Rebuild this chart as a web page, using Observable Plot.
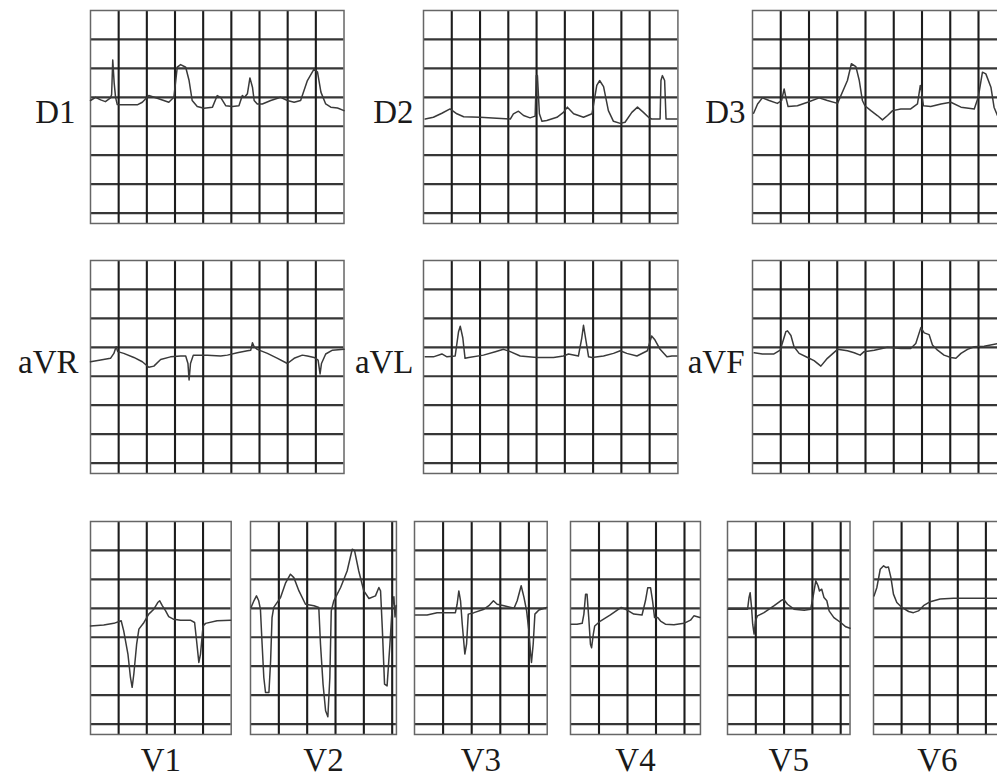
<!DOCTYPE html>
<html><head><meta charset="utf-8">
<script src="https://cdn.jsdelivr.net/npm/d3@7"></script>
<script src="https://cdn.jsdelivr.net/npm/@observablehq/plot@0.6"></script>
<style>
html,body{margin:0;padding:0;background:#fff;overflow:hidden;}
#chart{position:relative;width:997px;height:778px;overflow:hidden;background:#fff;}
#chart svg{position:absolute;}
</style></head><body><div id="chart"></div>
<script>
// Lead names
const leadNames = ["D1","D2","D3","aVR","aVL","aVF","V1","V2","V3","V4","V5","V6"];

// Traces: [time in large grid boxes from panel's left edge, amplitude in large boxes above lowest full grid line]
const D1 = [[0,3.89],[0.18,4.0],[0.36,3.91],[0.53,3.85],[0.71,3.98],[0.75,4.1],[0.79,5.29],[0.84,4.5],[0.89,4.0],[0.95,3.75],[1.07,3.74],[1.66,3.74],[1.84,3.83],[2.07,4.06],[2.37,3.97],[2.78,3.83],[2.96,4.0],[3.08,5.04],[3.2,5.13],[3.38,5.04],[3.5,4.58],[3.61,3.89],[3.79,3.68],[4.03,3.62],[4.33,3.66],[4.5,4.06],[4.62,4.0],[4.8,3.71],[5.04,3.68],[5.27,3.71],[5.39,4.06],[5.47,4.0],[5.57,4.12],[5.66,4.67],[5.75,4.35],[5.81,3.89],[5.92,3.77],[6.1,3.77],[6.4,3.89],[6.75,4.0],[6.99,3.89],[7.23,3.83],[7.46,3.89],[7.7,4.58],[7.94,4.98],[8.06,4.87],[8.18,4.18],[8.35,3.77],[8.53,3.66],[8.77,3.63],[9.0,3.54]];
const D2 = [[0.06,3.25],[0.35,3.31],[0.65,3.45],[0.94,3.6],[1.18,3.43],[1.42,3.33],[2.0,3.31],[2.59,3.28],[3.07,3.25],[3.18,3.43],[3.36,3.52],[3.54,3.37],[3.77,3.29],[3.95,3.35],[3.99,4.75],[4.03,4.75],[4.1,3.43],[4.19,3.17],[4.36,3.2],[4.72,3.31],[4.95,3.48],[5.09,3.66],[5.31,3.43],[5.66,3.31],[5.96,3.43],[6.13,4.41],[6.23,4.58],[6.37,4.37],[6.54,3.54],[6.72,3.17],[6.96,3.1],[7.13,3.14],[7.37,3.48],[7.57,3.66],[7.78,3.48],[7.96,3.31],[8.07,3.25],[8.37,3.25],[8.4,4.58],[8.45,4.75],[8.53,4.58],[8.58,3.25],[8.96,3.25]];
const D3 = [[0.04,3.45],[0.18,3.77],[0.35,3.98],[0.59,3.89],[0.88,3.79],[1.03,3.89],[1.12,4.29],[1.18,4.0],[1.26,3.68],[1.59,3.71],[1.95,3.83],[2.36,3.98],[2.65,3.89],[3.01,3.79],[3.36,4.58],[3.5,5.16],[3.66,5.06],[3.78,4.58],[3.89,3.89],[3.98,3.71],[4.19,3.54],[4.42,3.37],[4.6,3.22],[4.78,3.37],[4.96,3.54],[5.25,3.6],[5.6,3.6],[5.84,3.77],[5.94,4.41],[5.98,4.23],[6.05,3.71],[6.31,3.68],[6.67,3.77],[7.02,3.83],[7.38,3.66],[7.85,3.6],[7.99,4.0],[8.14,4.87],[8.26,4.81],[8.44,4.35],[8.55,3.66],[8.67,3.37],[8.9,3.3]];
const aVR = [[0,3.5],[0.36,3.56],[0.71,3.62],[0.83,3.79],[0.91,4.02],[0.97,3.85],[1.18,3.79],[1.54,3.65],[1.84,3.5],[2.07,3.31],[2.25,3.35],[2.49,3.58],[2.84,3.67],[3.2,3.7],[3.38,3.7],[3.46,3.44],[3.5,2.87],[3.55,3.44],[3.65,3.73],[4.15,3.73],[4.62,3.7],[4.86,3.73],[5.21,3.81],[5.57,3.88],[5.69,3.9],[5.75,4.16],[5.81,4.02],[5.92,3.93],[6.28,3.79],[6.64,3.62],[6.99,3.44],[7.23,3.62],[7.52,3.73],[7.7,3.7],[7.94,3.65],[8.08,3.56],[8.15,3.08],[8.2,3.44],[8.35,3.77],[8.59,3.9],[9.0,3.93]];
const aVL = [[0.06,3.67],[0.35,3.67],[0.65,3.77],[0.83,3.67],[1.12,3.7],[1.24,4.54],[1.3,4.73],[1.39,4.33],[1.47,3.62],[1.6,3.65],[2.12,3.73],[2.54,3.85],[2.83,3.93],[3.07,3.85],[3.42,3.7],[4.01,3.65],[4.6,3.65],[4.95,3.7],[5.13,3.77],[5.48,3.7],[5.6,4.33],[5.66,4.76],[5.75,4.21],[5.84,3.67],[5.96,3.65],[6.37,3.7],[6.72,3.79],[6.96,3.88],[7.19,3.79],[7.55,3.7],[7.92,3.88],[8.07,4.39],[8.19,4.25],[8.37,3.93],[8.61,3.67],[8.79,3.7],[8.96,3.7]];
const aVF = [[0.06,3.81],[0.35,3.77],[0.76,3.77],[0.98,3.9],[1.18,4.54],[1.24,4.57],[1.36,4.41],[1.47,4.02],[1.65,3.79],[1.95,3.65],[2.18,3.54],[2.42,3.35],[2.65,3.62],[3.01,3.93],[3.36,3.88],[3.6,3.81],[3.81,3.73],[3.95,3.85],[4.31,3.9],[4.78,4.0],[5.25,3.96],[5.6,3.96],[5.78,4.13],[5.96,4.68],[6.08,4.5],[6.25,4.44],[6.37,4.08],[6.55,3.9],[6.78,3.73],[7.02,3.65],[7.2,3.62],[7.38,3.79],[7.61,3.93],[7.85,4.02],[8.2,4.04],[8.67,4.13],[8.95,4.2]];
const V1 = [[0,3.39],[0.47,3.42],[0.83,3.48],[1.09,3.57],[1.18,3.22],[1.33,2.42],[1.42,1.61],[1.48,1.27],[1.54,1.73],[1.64,2.76],[1.72,3.28],[1.9,3.51],[2.07,3.8],[2.25,3.97],[2.39,4.2],[2.46,4.26],[2.55,4.09],[2.67,3.91],[2.78,3.71],[2.96,3.62],[3.2,3.59],[3.55,3.59],[3.7,3.51],[3.77,2.88],[3.85,2.13],[3.91,2.42],[4.0,3.39],[4.09,3.48],[4.5,3.57],[4.98,3.59]];
const V2 = [[0.02,4.03],[0.12,4.26],[0.21,4.43],[0.29,4.26],[0.35,3.97],[0.41,2.76],[0.47,1.61],[0.53,1.09],[0.65,1.09],[0.71,2.19],[0.76,3.68],[0.82,4.03],[1.06,4.37],[1.24,4.88],[1.41,5.18],[1.53,5.06],[1.71,4.6],[1.94,4.14],[2.24,4.09],[2.41,4.03],[2.47,2.76],[2.56,1.38],[2.65,0.46],[2.73,0.25],[2.8,1.61],[2.85,3.91],[2.94,4.26],[3.18,4.72],[3.41,5.29],[3.59,6.04],[3.67,6.0],[3.82,5.29],[4.0,4.6],[4.18,4.34],[4.41,4.43],[4.53,4.72],[4.59,4.6],[4.65,3.34],[4.73,1.38],[4.82,1.32],[4.92,2.76],[5.0,4.03],[5.06,4.4],[5.1,3.7],[5.14,4.1]];
const V3 = [[0.03,3.77],[0.44,3.77],[0.79,3.85],[1.14,3.85],[1.43,3.85],[1.49,4.14],[1.55,4.6],[1.61,4.26],[1.67,3.45],[1.73,2.76],[1.76,2.42],[1.82,2.76],[1.88,3.8],[2.08,3.85],[2.43,3.97],[2.6,4.09],[2.76,4.26],[2.89,4.14],[3.13,4.09],[3.48,4.0],[3.59,4.26],[3.73,4.78],[3.83,4.37],[3.92,3.91],[4.0,3.22],[4.06,2.42],[4.09,2.13],[4.15,2.76],[4.21,3.8],[4.35,3.94],[4.62,4.03]];
const V4 = [[0.02,3.45],[0.23,3.45],[0.41,3.48],[0.47,3.8],[0.53,4.49],[0.58,4.49],[0.64,3.68],[0.7,2.76],[0.74,2.64],[0.8,3.1],[0.85,3.39],[1.05,3.56],[1.4,3.77],[1.64,3.94],[1.78,4.03],[1.99,3.94],[2.22,3.8],[2.51,3.77],[2.63,4.26],[2.71,4.71],[2.81,4.71],[2.88,4.26],[2.95,3.68],[3.06,3.68],[3.16,3.56],[3.33,3.45],[3.63,3.43],[3.98,3.48],[4.21,3.59],[4.33,3.74],[4.54,3.68]];
const V5 = [[0.02,3.97],[0.47,3.97],[0.71,3.97],[0.76,4.37],[0.8,4.54],[0.85,4.03],[0.89,3.45],[0.94,3.11],[0.99,3.57],[1.06,3.74],[1.29,3.85],[1.65,4.09],[1.88,4.26],[1.98,4.31],[2.12,4.14],[2.35,3.97],[2.71,3.93],[2.94,3.97],[3.04,4.49],[3.12,4.95],[3.2,4.78],[3.25,4.6],[3.33,4.66],[3.41,4.37],[3.51,4.26],[3.59,3.91],[3.76,3.68],[4.0,3.51],[4.18,3.36],[4.33,3.31]];
const V6 = [[0.02,4.43],[0.12,4.72],[0.24,5.35],[0.36,5.47],[0.45,5.41],[0.53,5.43],[0.62,5.06],[0.71,4.49],[0.83,4.2],[1.01,4.03],[1.25,3.89],[1.42,3.85],[1.6,3.91],[1.78,4.09],[2.02,4.23],[2.37,4.32],[2.85,4.35],[3.44,4.35],[4.5,4.35]];

const traces = {D1, D2, D3, aVR, aVL, aVF, V1, V2, V3, V4, V5, V6};

// Page layout (positions in px, widths in grid boxes)
const layout = {
  D1:  {left: 90,    top: 10,    cols: 9,    ux: 28.17, label: "left", gap: 15, fs: 33},
  D2:  {left: 423.3, top: 10,    cols: 9,    ux: 28.27, label: "left", gap: 10, fs: 33},
  D3:  {left: 751.7, top: 10,    cols: 9,    ux: 28.25, label: "left", gap: 7,  fs: 33},
  aVR: {left: 90,    top: 260,   cols: 9,    ux: 28.17, label: "left", gap: 12, fs: 33},
  aVL: {left: 423.3, top: 260,   cols: 9,    ux: 28.27, label: "left", gap: 10, fs: 33},
  aVF: {left: 751.7, top: 260,   cols: 9,    ux: 28.25, label: "left", gap: 8,  fs: 33},
  V1:  {left: 90,    top: 520.7, cols: 5,    ux: 28.14, label: "below", fs: 33},
  V2:  {left: 250,   top: 520.7, cols: 5.15, ux: 28.34, label: "below", fs: 33},
  V3:  {left: 414,   top: 520.7, cols: 4.64, ux: 28.6,  label: "below", fs: 33},
  V4:  {left: 570,   top: 520.7, cols: 4.56, ux: 28.5,  label: "below", fs: 33},
  V5:  {left: 726.7, top: 520.7, cols: 4.33, ux: 28.3,  label: "below", fs: 33},
  V6:  {left: 873.3, top: 520.7, cols: 4.55, ux: 28.1,  label: "below", fs: 33}
};
const panelH = 213;
const yDomain = [-0.36, 7];
const font = "'Liberation Serif', 'Times New Roman', serif";

const chart = document.getElementById("chart");
for (const name of leadNames) {
  const L = layout[name];
  const m = 3;
  const mL = L.label === "left" ? 100 : m;
  const mB = L.label === "below" ? 60 : m;
  const w = L.cols * L.ux;
  const labelMark = L.label === "left"
    ? Plot.text([name], {x: 0, y: 3.48, dx: -L.gap, text: d => d, textAnchor: "end", lineAnchor: "middle",
        fontSize: L.fs, fontFamily: font, fill: "#1a1a1a"})
    : Plot.text([name], {x: L.cols / 2, y: -1.26, text: d => d, textAnchor: "middle", lineAnchor: "middle",
        fontSize: L.fs, fontFamily: font, fill: "#1a1a1a"});
  const svg = Plot.plot({
    width: w + mL + m,
    height: panelH + m + mB,
    marginLeft: mL, marginRight: m, marginTop: m, marginBottom: mB,
    style: {background: "transparent"},
    x: {domain: [0, L.cols], axis: null},
    y: {domain: yDomain, axis: null},
    marks: [
      Plot.ruleY(d3.range(0, 7), {stroke: "#363636", strokeWidth: 2.2}),
      Plot.ruleX(d3.range(1, Math.ceil(L.cols)), {stroke: "#1c1c1c", strokeWidth: 2.1}),
      Plot.frame({stroke: "#666", strokeWidth: 1.5}),
      Plot.line(traces[name], {x: d => d[0], y: d => d[1], stroke: "#3a3a3a", strokeWidth: 1.5,
        strokeLinejoin: "round", strokeLinecap: "round"}),
      labelMark
    ]
  });
  svg.style.left = (L.left - mL) + "px";
  svg.style.top = (L.top - m) + "px";
  chart.appendChild(svg);
}
</script>
</body></html>
